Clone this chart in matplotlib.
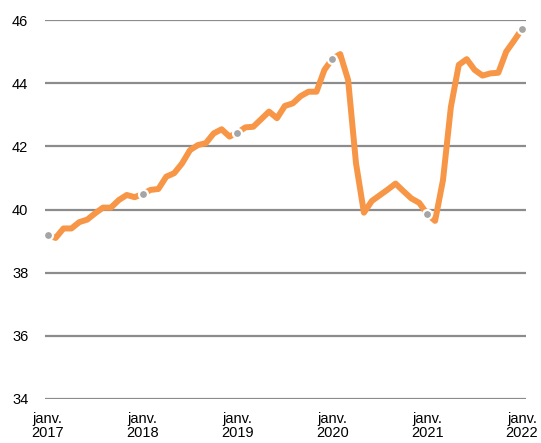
import matplotlib
matplotlib.use("Agg")
import matplotlib.pyplot as plt
import numpy as np

plt.rcParams['font.family'] = ['Liberation Sans', 'DejaVu Sans']

# Monthly values, Jan 2017 .. Jan 2022
values = [
    39.2, 39.1, 39.4, 39.4, 39.6, 39.68, 39.88, 40.06, 40.06, 40.3, 40.46, 40.39,   # 2017
    40.49, 40.62, 40.65, 41.04, 41.15, 41.46, 41.88, 42.04, 42.1, 42.41, 42.54, 42.31,  # 2018
    42.43, 42.6, 42.62, 42.86, 43.1, 42.89, 43.28, 43.36, 43.59, 43.73, 43.73, 44.42,   # 2019
    44.77, 44.92, 44.1, 41.46, 39.9, 40.27, 40.45, 40.63, 40.82, 40.58, 40.35, 40.21,  # 2020
    39.86, 39.64, 40.93, 43.25, 44.58, 44.76, 44.42, 44.24, 44.31, 44.33, 45.0, 45.35,  # 2021
    45.72,                                                                              # 2022
]
jan_labels = ["janv.\n2017", "janv.\n2018", "janv.\n2019", "janv.\n2020", "janv.\n2021", "janv.\n2022"]
y_ticks = [34, 36, 38, 40, 42, 44, 46]

W, H = 541, 443
fig = plt.figure(figsize=(W / 100, H / 100), dpi=100)
ax = fig.add_axes([45 / W, 1 - 399 / H, (526 - 45) / W, (399 - 20) / H])

x = np.arange(len(values))
jan_idx = x[::12]
jan_vals = [values[i] for i in jan_idx]

for yt in y_ticks:
    ax.axhline(yt, color='#8c8c8c', lw=1.6, zorder=1)

ax.plot(x, values, color='#F79646', lw=4.3, solid_capstyle='butt', solid_joinstyle='round', zorder=2, clip_on=False)
ax.plot(jan_idx, jan_vals, linestyle='none', marker='o', markersize=6.5,
        markerfacecolor='#A5A5A5', markeredgecolor='white', markeredgewidth=1.6, zorder=3, clip_on=False)

ax.set_xlim(-0.34, 60.5)
ax.set_ylim(34, 46)
ax.set_yticks(y_ticks)
ax.set_yticklabels([str(v) for v in y_ticks])
ax.set_xticks(jan_idx)
ax.set_xticklabels(jan_labels, linespacing=1.05)

for s in ax.spines.values():
    s.set_visible(False)
ax.tick_params(axis='both', length=0, labelsize=10.5, colors='black')
ax.tick_params(axis='y', pad=12)
ax.tick_params(axis='x', pad=9)

fig.savefig("out.png", dpi=100)
